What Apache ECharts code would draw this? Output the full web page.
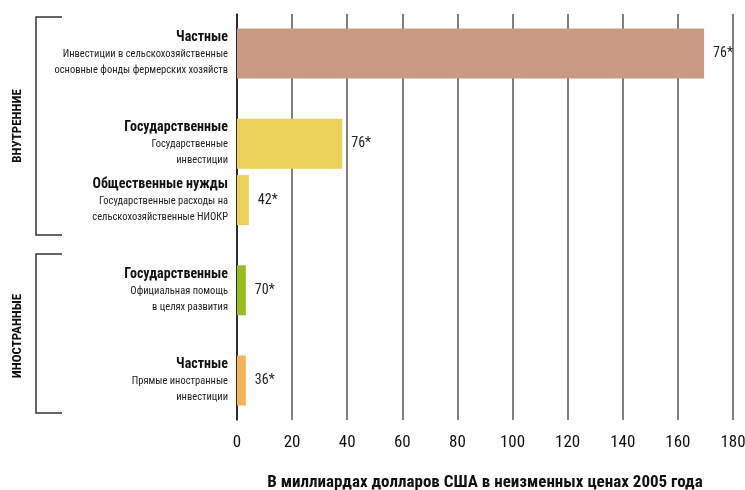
<!DOCTYPE html>
<html><head><meta charset="utf-8">
<script src="https://cdn.jsdelivr.net/npm/echarts@6/dist/echarts.min.js"></script>
<style>html,body{margin:0;padding:0;background:#fff}#c{width:745px;height:490px}</style>
</head><body><div id="c"></div>
<script>
// ---- data ----
const categories = ['Частные', 'Государственные', 'Общественные нужды', 'Государственные', 'Частные'];
const subtitles = [
  ['Инвестиции в сельскохозяйственные', 'основные фонды фермерских хозяйств'],
  ['Государственные', 'инвестиции'],
  ['Государственные расходы на', 'сельскохозяйственные НИОКР'],
  ['Официальная помощь', 'в целях развития'],
  ['Прямые иностранные', 'инвестиции']
];
const values = [169.5, 38.2, 4.3, 3.2, 3.2];
const valueLabels = ['76*', '76*', '42*', '70*', '36*'];
const groups = ['ВНУТРЕННИЕ', 'ИНОСТРАННЫЕ'];
const xMin = 0, xMax = 180, xInterval = 20;
const axisTitle = 'В миллиардах долларов США в неизменных ценах 2005 года';

// ---- styles / layout ----
const barColors = ['#C99A82', '#EAD157', '#EAD157', '#98BE1E', '#F5B256'];
const FONT = '"Roboto Condensed", "DejaVu Sans Condensed", sans-serif';
const rowSlots = [3, 11, 16, 24, 32];   // category-band slots of each row
const totalSlots = 36;

const yCats = [];
for (let i = 0; i < totalSlots; i++) yCats.push('slot' + i);
const seriesData = yCats.map((c, i) => {
  const r = rowSlots.indexOf(i);
  if (r < 0) return '-';
  return { value: values[r], itemStyle: { color: barColors[r] }, label: { formatter: valueLabels[r] } };
});

const chart = echarts.init(document.getElementById('c'), null, { renderer: 'canvas' });
const bracket = (y1, y2) => ({
  type: 'polyline',
  shape: { points: [[62, y1], [36, y1], [36, y2], [62, y2]] },
  style: { stroke: '#333', lineWidth: 1.5, fill: null }
});
chart.setOption({
  animation: false,
  textStyle: { fontFamily: FONT },
  grid: { left: 237, right: 12, top: 14, bottom: 70, containLabel: false, outerBoundsMode: 'none' },
  xAxis: {
    type: 'value', min: xMin, max: xMax, interval: xInterval,
    axisLine: { show: false }, axisTick: { show: false },
    splitLine: { show: true, lineStyle: { color: '#555', width: 1.5 } },
    axisLabel: { fontSize: 17, color: '#111', margin: 14, fontFamily: FONT },
    name: axisTitle, nameLocation: 'middle', nameGap: 54,
    nameTextStyle: { fontSize: 17, fontWeight: 'bold', color: '#111', fontFamily: FONT }
  },
  yAxis: {
    type: 'category', data: yCats, inverse: true,
    axisLine: { show: true, lineStyle: { color: '#111', width: 1.5 } },
    axisTick: { show: false },
    axisLabel: {
      interval: 0, margin: 9, align: 'right',
      formatter: (v, idx) => {
        const r = rowSlots.indexOf(idx);
        if (r < 0) return '';
        return '{t|' + categories[r] + '}\n' + subtitles[r].map(s => '{s|' + s + '}').join('\n');
      },
      rich: {
        t: { fontSize: 14, fontWeight: 'bold', lineHeight: 18, color: '#111', fontFamily: FONT, align: 'right' },
        s: { fontSize: 10.5, lineHeight: 16, color: '#222', fontFamily: FONT, align: 'right' }
      }
    }
  },
  series: [{
    type: 'bar', data: seriesData, barWidth: 50,
    label: { show: true, position: 'right', distance: 9, fontSize: 14, color: '#222', fontFamily: FONT }
  }],
  graphic: [
    bracket(17, 235),
    bracket(254, 413),
    { type: 'text', x: 18, y: 126, rotation: Math.PI / 2,
      style: { text: groups[0], fontSize: 13, fontWeight: 'bold', fill: '#111', fontFamily: FONT, align: 'center', verticalAlign: 'middle' } },
    { type: 'text', x: 18, y: 336, rotation: Math.PI / 2,
      style: { text: groups[1], fontSize: 13, fontWeight: 'bold', fill: '#111', fontFamily: FONT, align: 'center', verticalAlign: 'middle' } }
  ]
});
</script></body></html>
